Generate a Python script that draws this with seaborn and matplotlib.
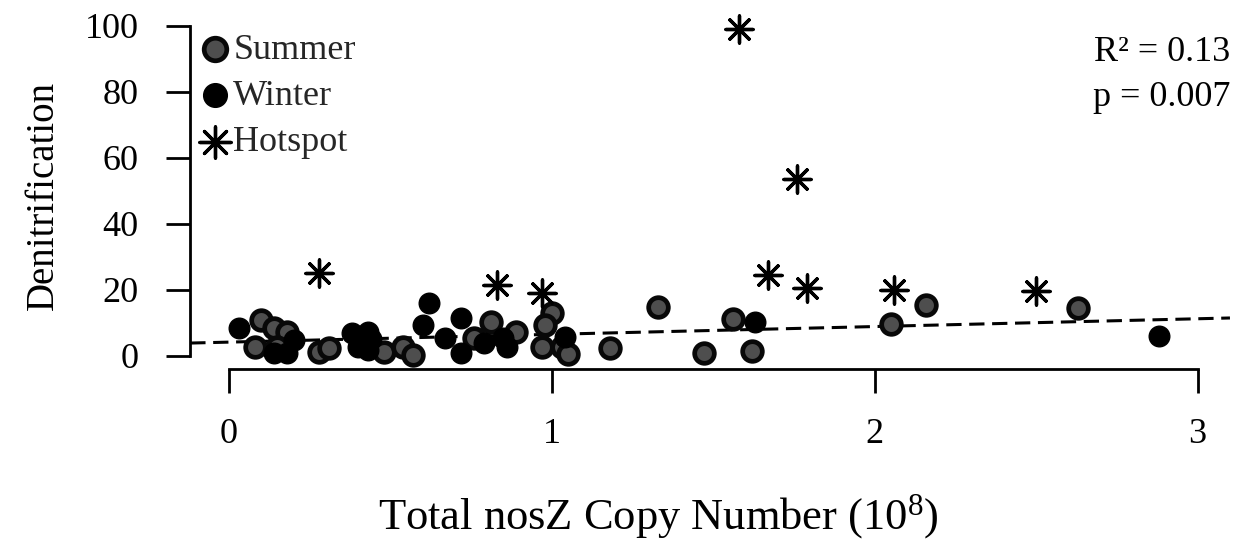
import matplotlib
matplotlib.use("Agg")
import matplotlib.pyplot as plt
import seaborn as sns
import pandas as pd
import numpy as np

# ---- data ----
summer_x = [0.10, 0.14, 0.18, 0.08, 0.15, 0.28, 0.31, 0.48, 0.54, 0.57, 0.76, 0.81, 0.89,
            1.00, 0.98, 0.97, 1.03, 1.05, 1.18, 1.33, 1.47, 1.56, 1.62, 2.05, 2.16, 2.63]
summer_y = [10.9, 8.5, 7.3, 2.7, 2.7, 1.2, 2.4, 1.2, 2.7, 0.3, 5.4, 10.3, 7.3,
            13.0, 9.4, 2.7, 2.7, 0.5, 2.4, 14.8, 1.0, 11.2, 1.5, 9.7, 15.5, 14.5]
winter_x = [0.03, 0.14, 0.18, 0.20, 0.38, 0.43, 0.40, 0.43, 0.44, 0.62, 0.60, 0.67, 0.72,
            0.72, 0.79, 0.85, 0.86, 1.04, 1.63, 2.88]
winter_y = [8.5, 0.9, 0.9, 4.8, 7.0, 7.3, 2.7, 1.8, 5.0, 16.0, 9.5, 5.4, 11.5,
            0.9, 3.9, 5.4, 2.7, 5.8, 10.3, 6.0]
hotspot_x = [0.28, 0.83, 0.97, 1.58, 1.76, 1.67, 1.79, 2.06, 2.50]
hotspot_y = [25.2, 21.5, 19.0, 99.0, 53.6, 24.5, 20.6, 20.0, 19.7]

fit_intercept = 4.2
fit_slope = 2.36
fit_x = [-0.12, 3.1]

x_ticks = [0, 1, 2, 3]
y_ticks = [0, 20, 40, 60, 80, 100]
x_label = "Total nosZ Copy Number (10$^{8}$)"
y_label = "Denitrification"
stats_text = ["R\u00b2 = 0.13", "p = 0.007"]

# ---- style ----
sns.set_style("ticks")
plt.rcParams['font.family'] = ['Liberation Serif', 'DejaVu Serif']
plt.rcParams['mathtext.fontset'] = 'custom'
plt.rcParams['mathtext.rm'] = 'Liberation Serif'
plt.rcParams['mathtext.it'] = 'Liberation Serif'

FS = 26
fig = plt.figure(figsize=(12.39, 5.49), dpi=100)
ax = fig.add_axes([0.1533, 0.3279, 0.8394, 0.6308])

df_fit = pd.DataFrame({"x": fit_x, "y": [fit_intercept + fit_slope * v for v in fit_x]})
sns.lineplot(data=df_fit, x="x", y="y", ax=ax, color="black", linestyle=(0, (5, 2.5)),
             linewidth=2.2, legend=False, zorder=1)

df_s = pd.DataFrame({"x": summer_x, "y": summer_y})
df_w = pd.DataFrame({"x": winter_x, "y": winter_y})
df_h = pd.DataFrame({"x": hotspot_x, "y": hotspot_y})

sns.scatterplot(data=df_s, x="x", y="y", ax=ax, s=200, color="#4e4e4e",
                edgecolor="#080808", linewidth=3.4, label="Summer", zorder=3)
sns.scatterplot(data=df_w, x="x", y="y", ax=ax, s=220, color="black",
                edgecolor="black", linewidth=1, label="Winter", zorder=3)
sns.scatterplot(data=df_h, x="x", y="y", ax=ax, s=380, marker=(8, 2, 0), color="black",
                edgecolor="black", linewidth=2.4, label="Hotspot", zorder=3, clip_on=False)

ax.set_xlim(-0.121, 3.1)
ax.set_ylim(-3.94, 101)
ax.set_xticks(x_ticks)
ax.set_yticks(y_ticks)
ax.set_xticklabels([str(t) for t in x_ticks])
ax.set_yticklabels([str(t) for t in y_ticks])

for side in ["top", "right"]:
    ax.spines[side].set_visible(False)
ax.spines["left"].set_bounds(0, 100)
ax.spines["bottom"].set_bounds(0, 3)
for side in ["left", "bottom"]:
    ax.spines[side].set_linewidth(2.0)
    ax.spines[side].set_color("black")

ax.tick_params(axis="both", direction="out", length=17, width=2.0, color="black",
               labelsize=FS, labelcolor="black")
ax.tick_params(axis="y", pad=20)
ax.tick_params(axis="x", pad=18)

ax.set_xlabel(x_label, fontsize=32, color="black")
ax.xaxis.set_label_coords(0.45, -0.355)
ax.set_ylabel(y_label, fontsize=28, labelpad=16, color="black")

leg = ax.legend(loc="upper left", frameon=False, fontsize=FS, handletextpad=0.0,
                handlelength=1.0, labelspacing=0.36, borderaxespad=0.0, borderpad=0.2,
                bbox_to_anchor=(0.0, 0.99), markerscale=1.15)

ax.text(1.0, 0.915, stats_text[0], transform=ax.transAxes, ha="right", va="center",
        fontsize=FS, color="black")
ax.text(1.0, 0.785, stats_text[1], transform=ax.transAxes, ha="right", va="center",
        fontsize=FS, color="black")

fig.savefig("out.png", dpi=100)
